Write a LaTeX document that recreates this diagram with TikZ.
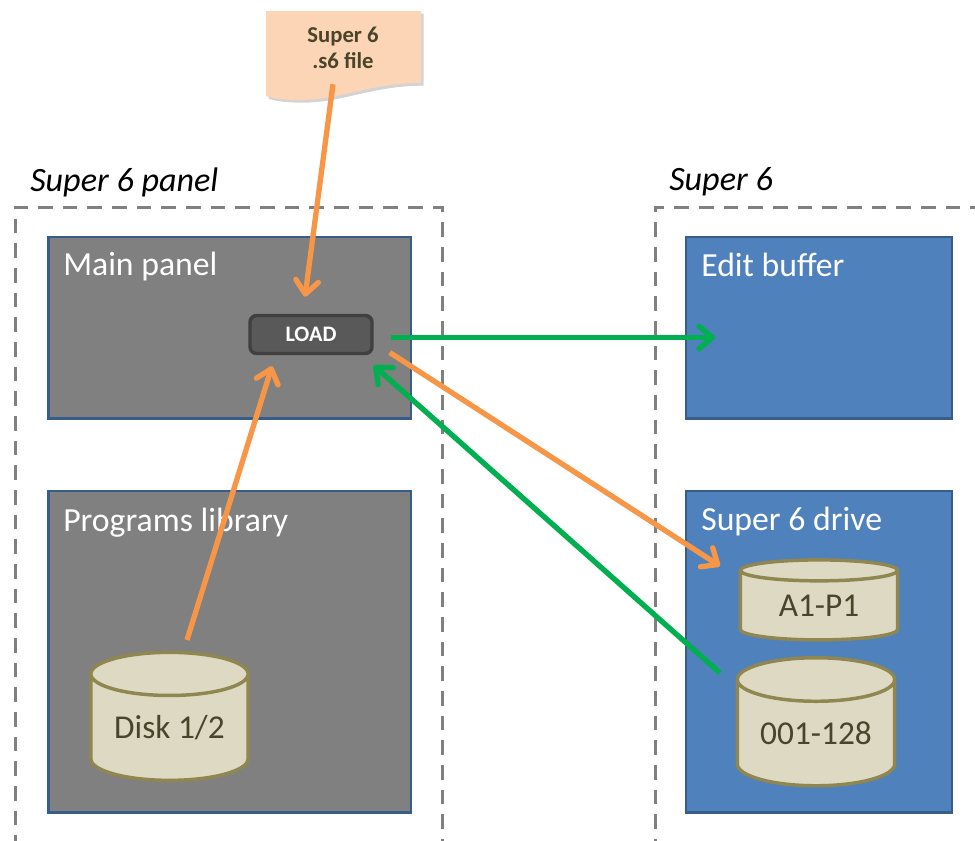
\documentclass[tikz,border=0pt]{standalone}
\usepackage{xcolor}
\usepackage{fontspec}
\setmainfont{Carlito}
\usetikzlibrary{arrows.meta,shapes.geometric,shadows,positioning}
\definecolor{boxblue}{HTML}{4F81BD}
\definecolor{boxedge}{HTML}{385D8A}
\definecolor{diskfill}{HTML}{DDD9C3}
\definecolor{diskedge}{HTML}{8F8650}
\definecolor{disktext}{HTML}{4A452A}
\definecolor{fileorange}{HTML}{FBD5B5}
\definecolor{arroworange}{HTML}{F79646}
\definecolor{arrowgreen}{HTML}{00B050}

\begin{document}
\begin{tikzpicture}[x=0.75pt,y=-0.75pt]
\tikzstyle{panel}=[rectangle, inner sep=0pt, minimum width=272pt, minimum height=136pt, line width=2pt, draw=boxedge, fill=black!50]
\tikzstyle{blue}=[panel, fill=boxblue, minimum width=199.5pt, drop shadow={shadow xshift=-1pt, shadow yshift=-1pt, opacity=.5}]
\tikzstyle{disk}=[cylinder, shape border rotate=90, inner sep=0pt, minimum width=118pt, line width=2.6pt, draw=diskedge, cylinder uses custom fill, cylinder end fill=diskfill, cylinder body fill=diskfill, text=disktext, font=\fontsize{25}{28}\selectfont]
\tikzstyle{caption}=[anchor=west, inner sep=0pt, text=white, font=\fontsize{25.3}{28}\selectfont]
\tikzstyle{title}=[anchor=west, inner sep=0pt, font=\fontsize{25.6}{28}\selectfont\itshape]
\tikzstyle{frame}=[line width=2.25pt, draw=black!50, dash pattern=on 11pt off 7.5pt]
\tikzstyle{connect}=[-{Straight Barb[round,length=10pt,width=17pt]}, line width=4pt]
\tikzstyle{orange}=[connect, draw=arroworange]
\tikzstyle{green}=[connect, draw=arrowgreen]
  % margins
  \useasboundingbox (0,0) rectangle (975,840);
  \draw[frame] (15,850) -- (15,207) -- (442,207) -- (442,850);
  \draw[frame] (985,207) -- (655,207) -- (655,850);
  \node[title] (paneltitle) at (30,182) {Super 6 panel};
  \node[title] (synthtitle) at (669,182) {Super 6};
  % left side
  \node[panel] (mainpanel) at (229.5,327.5) {};
  \node[panel, minimum height=241pt] (library) at (229.5,651.5) {};
  \node[caption] (maintext) at (63,266) {Main panel};
  \node[caption] (librarytext) at (63,523) {Programs library};
  \node[disk, minimum height=96pt, aspect=0.39] (diskone) at (169.5,728) {Disk 1/2};
  \node[rectangle, rounded corners=5pt, inner sep=0pt, minimum width=91.5pt, minimum height=28.5pt, line width=2.6pt, draw=black!75, fill=black!65, text=white, font=\fontsize{16.6}{18}\bfseries\selectfont, drop shadow={shadow xshift=1pt, shadow yshift=-1pt, opacity=.3}] (load) at (311,334.5) {LOAD};
  % right side
  \node[blue] (edit) at (819,327.5) {};
  \node[blue, minimum height=241pt] (drive) at (819,651.5) {};
  \node[caption] (edittext) at (701,265) {Edit buffer};
  \node[caption] (drivetext) at (701,521) {Super 6 drive};
  \node[disk, minimum height=60pt, aspect=0.26] (diska) at (819,606) {A1-P1};
  \node[disk, minimum height=96pt, aspect=0.39] (diskb) at (816,733.5) {001-128};
  % file on top
  \fill[fileorange, drop shadow={shadow xshift=2pt, shadow yshift=-2pt, opacity=.35}] (266,11) -- (421,11) -- (421,83) .. controls (370,83) and (340,100) .. (300,100) .. controls (285,100) and (275,99) .. (266,96) -- cycle;
  \node[rectangle, inner sep=0pt, minimum width=116pt, minimum height=63pt, align=center, text=disktext, font=\fontsize{17}{19.5}\bfseries\selectfont] (file) at (343,48) {Super 6\\.s6 file};
  \path ([shift={(-10,-6)}]file.south) edge [orange] ([shift={(-6,-17)}]load.north)
        ([shift={(17,3)}]load.east) edge [green] ([shift={(-104,10)}]edit.center)
        ([shift={(16,18)}]load.east) edge [orange] ([shift={(-99,-40)}]diska.center)
        ([shift={(-96,-60.5)}]diskb.center) edge [green] ([shift={(0,31)}]load.east)
        ([shift={(17.5,-88)}]diskone.center) edge [orange] ([shift={(-39,11)}]load.south);
\end{tikzpicture}
\end{document}
